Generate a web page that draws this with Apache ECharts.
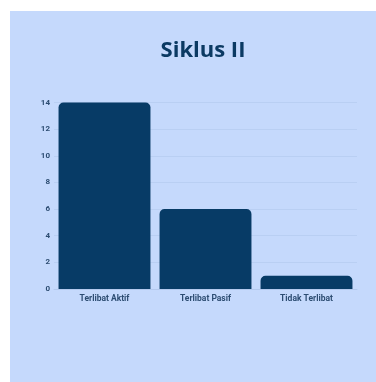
<!DOCTYPE html>
<html><head><meta charset="utf-8">
<script src="https://cdn.jsdelivr.net/npm/echarts@6/dist/echarts.min.js"></script>
<style>
html,body{margin:0;padding:0;background:#ffffff;width:376px;height:382px;overflow:hidden;}
#c{position:absolute;left:10px;top:11px;width:366px;height:371px;background:#c5d9fc;}
</style></head>
<body><div id="c"></div>
<script>
const categories = ['Terlibat Aktif', 'Terlibat Pasif', 'Tidak Terlibat'];
const values = [14, 6, 1];
const titleText = 'Siklus II';

const chart = echarts.init(document.getElementById('c'), null, {renderer:'canvas'});
chart.setOption({
  backgroundColor: 'transparent',
  animation: false,
  title: {
    text: titleText,
    left: 188, top: 24, textAlign: 'center',
    textStyle: {fontFamily: 'Open Sans', fontWeight: 'bold', fontSize: 22, color: '#0b3a63'}
  },
  grid: {left: 44, right: 19, top: 91.5, bottom: 93},
  xAxis: {
    type: 'category', data: categories,
    axisLine: {show: true, lineStyle: {color: '#b3c9ee', width: 1}},
    axisTick: {show: false},
    axisLabel: {margin: 5, fontFamily: 'Roboto', fontWeight: 'bold', fontSize: 8.5, color: '#2d4d72'}
  },
  yAxis: {
    type: 'value', min: 0, max: 14, interval: 2,
    axisLine: {show: false}, axisTick: {show: false},
    splitLine: {lineStyle: {color: '#b9cff3', width: 1}},
    axisLabel: {margin: 4, fontFamily: 'Roboto', fontWeight: 'bold', fontSize: 8, color: '#2d4d72'}
  },
  series: [{
    type: 'bar', data: values, barCategoryGap: '9%',
    itemStyle: {color: '#073b66', borderRadius: [5, 5, 0, 0]}
  }]
});
</script></body></html>
